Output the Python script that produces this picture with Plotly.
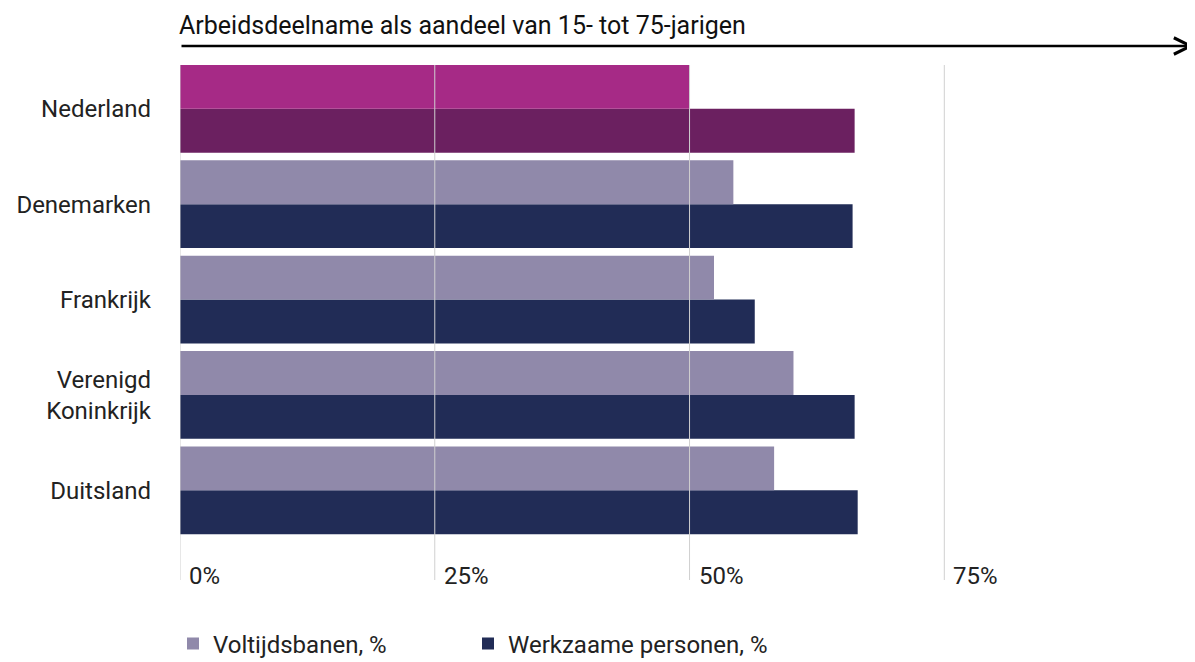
import plotly.graph_objects as go

# Data (top to bottom as in the chart)
countries = ["Nederland", "Denemarken", "Frankrijk", "Verenigd<br>Koninkrijk", "Duitsland"]
voltijds = [50.0, 54.3, 52.4, 60.2, 58.3]
werkzaam = [66.2, 66.0, 56.4, 66.2, 66.5]
x_ticks = [0, 25, 50, 75]
x_tick_labels = ["0%", "25%", "50%", "75%"]
title_text = "Arbeidsdeelname als aandeel van 15- tot 75-jarigen"
series_names = ["Voltijdsbanen, %", "Werkzaame personen, %"]

# Colors
c_volt = "#9089AA"
c_werk = "#212C56"
c_volt_hl = "#A62A86"
c_werk_hl = "#6B2060"

# Plotly horizontal bars draw bottom-up, so reverse order
cats = countries[::-1]
volt_r = voltijds[::-1]
werk_r = werkzaam[::-1]
volt_colors = [c_volt_hl if c == "Nederland" else c_volt for c in cats]
werk_colors = [c_werk_hl if c == "Nederland" else c_werk for c in cats]

FONT = "Roboto"
TXT = "#222222"

fig = go.Figure()
fig.add_trace(go.Bar(
    y=cats, x=werk_r, orientation="h", name=series_names[1],
    marker=dict(color=werk_colors, line=dict(width=0)),
    hoverinfo="x+y", legend="legend2",
))
fig.add_trace(go.Bar(
    y=cats, x=volt_r, orientation="h", name=series_names[0],
    marker=dict(color=volt_colors, line=dict(width=0)),
    hoverinfo="x+y", legend="legend",
))

# page body has an 8px margin; compensate
W, H = 1187, 654
ML, MT = 172, 57
plot_bottom = 572
plot_h = plot_bottom - MT
plot_w = W - ML

# gridlines above bars
for t in x_ticks:
    fig.add_shape(type="line", xref="x", yref="paper", x0=t, x1=t, y0=0, y1=1,
                  line=dict(color="#d0d0d0", width=1), layer="above")
for t, lab in zip(x_ticks, x_tick_labels):
    fig.add_annotation(x=t, xref="x", y=0, yref="paper", text=lab, showarrow=False,
                       xanchor="left", yanchor="middle", xshift=7, yshift=4,
                       font=dict(family=FONT, size=24, color=TXT))

# title and arrow
fig.add_annotation(x=0, xref="paper", y=1 + 40 / plot_h, yref="paper", text=title_text,
                   showarrow=False, xanchor="left", yanchor="middle", xshift=-3,
                   font=dict(family=FONT, size=25, color="#111111"))
fig.add_annotation(x=1, xref="paper", y=1 + 19 / plot_h, yref="paper", text="",
                   showarrow=True, axref="pixel", ayref="pixel", ax=-plot_w, ay=0,
                   arrowhead=5, arrowsize=1.3, arrowwidth=2.5, arrowcolor="#000000",
                   standoff=0)

legend_common = dict(orientation="h", xanchor="left", y=-64 / plot_h, yanchor="middle",
                     font=dict(family=FONT, size=24, color=TXT), bgcolor="rgba(0,0,0,0)")

fig.update_layout(
    width=W, height=H,
    margin=dict(l=ML, r=0, t=MT, b=H - plot_bottom, pad=0, autoexpand=False),
    paper_bgcolor="white", plot_bgcolor="white",
    barmode="group", bargap=0.08, bargroupgap=0,
    font=dict(family=FONT, size=24, color=TXT),
    showlegend=True,
    legend=dict(x=-7 / plot_w, **legend_common),
    legend2=dict(x=288 / plot_w, **legend_common),
    xaxis=dict(range=[0, 99.6], showgrid=False, zeroline=False, showticklabels=False,
               showline=False, fixedrange=True),
    yaxis=dict(type="category", range=[-0.94, 4.46], showgrid=False, zeroline=False,
               showline=False, ticks="", ticklabelstandoff=28,
               tickfont=dict(family=FONT, size=24, color=TXT)),
)

fig.write_html("out.html")
